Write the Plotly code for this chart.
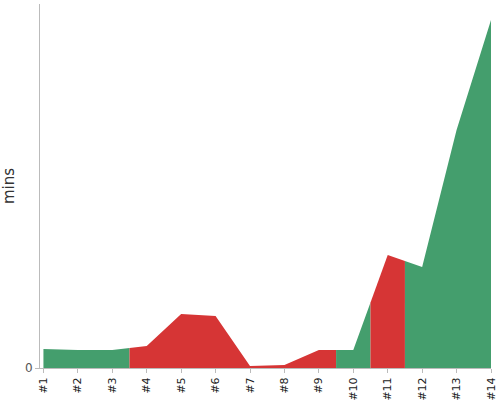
import plotly.graph_objects as go

labels = ["#1", "#2", "#3", "#4", "#5", "#6", "#7", "#8", "#9", "#10", "#11", "#12", "#13", "#14"]
values = [19, 18, 18, 22, 54, 52, 2, 3, 18, 18, 113, 101, 238, 348]
status = ["good", "good", "good", "bad", "bad", "bad", "bad", "bad", "bad", "good", "bad", "good", "good", "good"]

colors = {"good": "#449e6d", "bad": "#d63535"}

xs = list(range(1, len(values) + 1))
n = len(values)


def interp(xq):
    i = int(xq) - 1
    if i >= n - 1:
        return values[-1]
    t = xq - xs[i]
    return values[i] + (values[i + 1] - values[i]) * t


# group contiguous runs of the same status
runs = []
start = 0
for i in range(1, n + 1):
    if i == n or status[i] != status[start]:
        runs.append((start, i - 1, status[start]))
        start = i

fig = go.Figure()
for a, b, st in runs:
    px, py = [], []
    if a > 0:
        xm = xs[a] - 0.5
        px.append(xm)
        py.append(interp(xm))
    for k in range(a, b + 1):
        px.append(xs[k])
        py.append(values[k])
    if b < n - 1:
        xm = xs[b] + 0.5
        px.append(xm)
        py.append(interp(xm))
    fig.add_trace(go.Scatter(
        x=px, y=py, mode="lines", fill="tozeroy",
        line=dict(width=0, color=colors[st]),
        fillcolor=colors[st], hoverinfo="skip", showlegend=False,
    ))

fig.update_layout(
    width=500, height=400,
    margin=dict(l=40, r=9, t=4, b=32),
    paper_bgcolor="white", plot_bgcolor="white",
    font=dict(family="DejaVu Sans", color="#333"),
    xaxis=dict(
        range=[0.9, 14], tickmode="array", tickvals=xs, ticktext=labels,
        tickangle=-90, showgrid=False, zeroline=False, automargin=False,
        showline=True, linecolor="#bbb", linewidth=1,
        ticks="outside", ticklen=4, tickcolor="#bbb",
        tickfont=dict(family="DejaVu Sans", size=11, color="#222"),
    ),
    yaxis=dict(
        range=[0, 364], tickmode="array", tickvals=[0], ticktext=["0"],
        showgrid=False, zeroline=False, automargin=False,
        showline=True, linecolor="#bbb", linewidth=1,
        ticks="outside", ticklen=4, tickcolor="#bbb",
        tickfont=dict(family="DejaVu Sans", size=12, color="#555"),
        title=dict(text="mins", font=dict(family="DejaVu Sans", size=15, color="#333"), standoff=11),
    ),
)

fig.write_html("out.html", config={"displayModeBar": False},
               post_script="document.body.style.margin='0';")
